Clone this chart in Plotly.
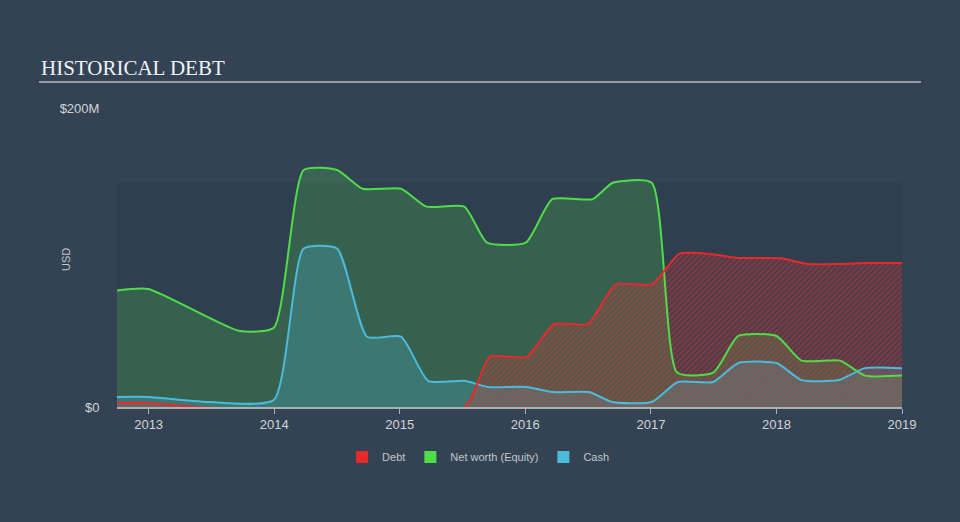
import plotly.graph_objects as go

# ---- data (USD millions) ----
equity_dates = ["2012-10-01", "2012-12-31", "2013-09-20", "2013-12-31", "2014-03-28", "2014-07-03",
                "2014-09-15", "2015-01-05", "2015-03-20", "2015-07-08", "2015-09-12", "2016-01-03",
                "2016-03-20", "2016-07-15", "2016-09-12", "2017-01-03", "2017-03-18", "2017-07-01",
                "2017-09-12", "2018-01-01", "2018-03-15", "2018-07-05", "2018-09-15", "2019-01-01"]
equity_vals = [78, 79, 51, 53, 158.5, 158.5, 146, 146, 134, 134, 110, 110,
               139, 139, 150, 150, 23, 23, 47.5, 47.5, 31, 31, 21, 21]

cash_dates = ["2012-10-01", "2012-12-31", "2013-07-01", "2013-12-31", "2014-03-28", "2014-07-03",
              "2014-09-28", "2015-01-05", "2015-03-25", "2015-07-08", "2015-09-15", "2016-01-05",
              "2016-03-20", "2016-07-05", "2016-09-10", "2017-01-03", "2017-03-20", "2017-07-01",
              "2017-09-12", "2018-01-01", "2018-03-15", "2018-07-01", "2018-09-15", "2019-01-01"]
cash_vals = [6.7, 6.7, 3.3, 4.7, 106, 106, 47, 47, 17.5, 17.5, 13.4, 13.4,
             10, 10, 3.3, 3.3, 16.7, 16.7, 29.4, 29.4, 18, 18, 26, 26]

debt_dates = ["2012-10-01", "2012-12-31", "2013-05-25", "2015-07-08", "2015-09-20", "2016-01-05",
              "2016-03-25", "2016-07-01", "2016-09-20", "2017-01-03", "2017-03-25", "2017-07-05",
              "2017-09-10", "2018-01-15", "2018-04-01", "2018-07-05", "2018-09-15", "2019-01-01"]
debt_vals = [2.7, 2.7, 0, 0, 33.5, 33.5, 55.5, 55.5, 82, 82, 102.5, 102,
             99.7, 99.5, 95.7, 95.7, 96.3, 96.3]

year_ticks = ["2013-01-01", "2014-01-01", "2015-01-01", "2016-01-01", "2017-01-01", "2018-01-01", "2019-01-01"]
year_labels = ["2013", "2014", "2015", "2016", "2017", "2018", "2019"]

RED = "#e8292b"
GREEN = "#4fdc48"
BLUE = "#4bbadc"
SMOOTH = 0.55

fig = go.Figure()

# fills
fig.add_trace(go.Scatter(x=equity_dates, y=equity_vals, mode="lines", line=dict(width=0, shape="spline", smoothing=SMOOTH),
                         fill="tozeroy", fillcolor="rgba(80,220,80,0.22)", showlegend=False, hoverinfo="skip"))
fig.add_trace(go.Scatter(x=cash_dates, y=cash_vals, mode="lines", line=dict(width=0, shape="spline", smoothing=SMOOTH),
                         fill="tozeroy", fillcolor="rgba(75,186,220,0.25)", showlegend=False, hoverinfo="skip"))
fig.add_trace(go.Scatter(x=debt_dates, y=debt_vals, mode="lines", line=dict(width=0, shape="spline", smoothing=SMOOTH),
                         fill="tozeroy",
                         fillpattern=dict(shape="/", fgcolor="rgba(232,50,50,0.8)", bgcolor="rgba(232,50,50,0.14)",
                                          size=4, solidity=0.45),
                         showlegend=False, hoverinfo="skip"))

# lines
fig.add_trace(go.Scatter(x=equity_dates, y=equity_vals, mode="lines", line=dict(color=GREEN, width=2, shape="spline", smoothing=SMOOTH),
                         showlegend=False))
fig.add_trace(go.Scatter(x=cash_dates, y=cash_vals, mode="lines", line=dict(color=BLUE, width=2, shape="spline", smoothing=SMOOTH),
                         showlegend=False))
fig.add_trace(go.Scatter(x=debt_dates, y=debt_vals, mode="lines", line=dict(color=RED, width=2, shape="spline", smoothing=SMOOTH),
                         showlegend=False))

# legend entries
for name, col in [("Debt", RED), ("Net worth (Equity)", GREEN), ("Cash", BLUE)]:
    fig.add_trace(go.Bar(x=[None], y=[None], name=name, marker=dict(color=col, line=dict(width=0))))

fig.update_layout(
    width=960, height=522,
    margin=dict(l=117, r=58, t=108, b=115),
    paper_bgcolor="#344354",
    plot_bgcolor="rgba(0,0,0,0)",
    font=dict(family="Liberation Sans, Arial, sans-serif", color="#c9ced4", size=13),
    showlegend=True,
    legend=dict(orientation="h", x=0.46, xanchor="center", y=-0.167, yanchor="middle",
                font=dict(size=11, color="#c0c6cc"), bgcolor="rgba(0,0,0,0)", itemwidth=30),
    xaxis=dict(type="date", range=["2012-10-01", "2019-01-01"], tickvals=year_ticks, ticktext=year_labels,
               showgrid=False, zeroline=False, showline=True, linecolor="#a9b0b8", linewidth=1.5,
               ticks="outside", ticklen=5, tickcolor="#a9b0b8", tickfont=dict(size=13, color="#d0d4d9")),
    yaxis=dict(range=[0, 200], tickvals=[0, 200], ticktext=["$0", "$200M"], showgrid=False, zeroline=False,
               showline=False, ticks="outside", ticklen=14, tickcolor="rgba(0,0,0,0)",
               tickfont=dict(size=13, color="#d0d4d9")),
    hovermode=False,
    shapes=[
        dict(type="rect", xref="paper", yref="y", x0=0, x1=1, y0=0, y1=150, fillcolor="rgba(10,20,30,0.08)",
             line=dict(width=0), layer="below"),
        dict(type="line", xref="paper", yref="paper", x0=(39 - 117) / 785, x1=(921 - 117) / 785,
             y0=(407 - 82) / 299, y1=(407 - 82) / 299, line=dict(color="#b3b9c0", width=1.5)),
    ],
    annotations=[
        dict(text="HISTORICAL DEBT", xref="paper", yref="paper", x=(39 - 117) / 785, y=(407 - 68) / 299,
             xanchor="left", yanchor="middle", showarrow=False,
             font=dict(family="Liberation Serif, Times New Roman, serif", size=21, color="#f0f2f4")),
        dict(text="USD", xref="paper", yref="paper", x=(66 - 117) / 785, y=(407 - 260) / 299,
             xanchor="center", yanchor="middle", showarrow=False, textangle=-90,
             font=dict(size=11, color="#c0c6cc")),
    ],
)

fig.write_html("out.html")
